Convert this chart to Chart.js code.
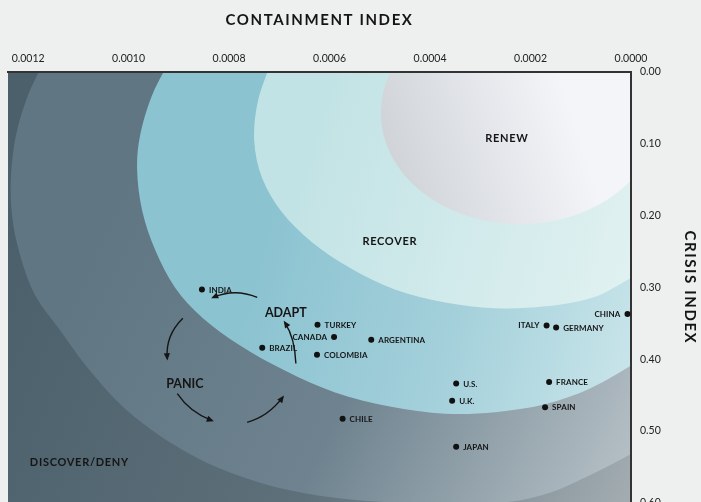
<!DOCTYPE html>
<html>
<head>
<meta charset="utf-8">
<script src="https://cdn.jsdelivr.net/npm/chart.js@4.4.0/dist/chart.umd.min.js"></script>
<style>
  html, body { margin: 0; padding: 0; background: #eef0ef; overflow: hidden; }
  #wrap { width: 701px; height: 518px; }
</style>
</head>
<body>
<div id="wrap"><canvas id="chart" width="701" height="518"></canvas></div>
<script>
// ===== Data =====
const countries   = ["INDIA", "TURKEY", "CANADA", "ARGENTINA", "BRAZIL", "COLOMBIA", "CHILE", "CHINA", "ITALY", "GERMANY", "U.S.", "U.K.", "FRANCE", "SPAIN", "JAPAN"];
const containment = [0.000854, 0.000624, 0.000591, 0.000517, 0.000734, 0.000625, 0.000574, 0.000007, 0.000168, 0.000149, 0.000348, 0.000356, 0.000163, 0.000171, 0.000348];
const crisis      = [0.303, 0.352, 0.369, 0.373, 0.384, 0.394, 0.483, 0.337, 0.353, 0.356, 0.434, 0.458, 0.432, 0.467, 0.522];
const labelLeft   = ["CANADA", "ITALY", "CHINA"];

const xTicks = [0, 0.0002, 0.0004, 0.0006, 0.0008, 0.0010, 0.0012];
const yTicks = [0, 0.1, 0.2, 0.3, 0.4, 0.5, 0.6];

// zone names and where their label sits (containment, crisis)
const zoneNames  = ["DISCOVER/DENY", "PANIC", "ADAPT", "RECOVER", "RENEW"];
const zoneLabelX = [0.001098, 0.000888, 0.000687, 0.000480, 0.000247];
const zoneLabelY = [0.544, 0.434, 0.336, 0.236, 0.092];

// outer edge of each zone, from the top edge round to the right edge (containment, crisis)
const edgePanic = [[0.001166,-0.017],[0.001200,0.032],[0.001224,0.088],[0.001234,0.144],[0.001232,0.1995],[0.001216,0.255],[0.001186,0.311],[0.001136,0.360],[0.001077,0.416],[0.001007,0.469],[0.000917,0.516],[0.000818,0.5525],[0.000708,0.578],[0.000589,0.593],[0.000460,0.600],[0.000340,0.601],[0.000241,0.5986],[0.000161,0.586],[0.0000915,0.565],[0,0.532],[-0.000038,0.515]];
const edgeAdapt = [[0.000917,-0.017],[0.000953,0.032],[0.000977,0.088],[0.000983,0.137],[0.000973,0.193],[0.000947,0.248],[0.000907,0.301],[0.000852,0.343],[0.000778,0.381],[0.000689,0.416],[0.000589,0.4465],[0.000480,0.466],[0.000370,0.476],[0.000271,0.474],[0.000171,0.463],[0.0000816,0.441],[0,0.409],[-0.000038,0.391]];
const edgeRecover = [[0.000714,-0.017],[0.000742,0.039],[0.000750,0.095],[0.000734,0.148],[0.000695,0.195],[0.000635,0.237],[0.000559,0.273],[0.000470,0.303],[0.000370,0.321],[0.000271,0.329],[0.000171,0.3265],[0.0000756,0.314],[0.000008,0.290],[-0.000038,0.273]];
// renew is a plain ellipse: centre and radii (containment, crisis)
const renewCentre = [0.000221, 0.0572];
const renewRadius = [0.000277, 0.155];

// cycle arrows: start, bend, end (containment, crisis)
const arrows = [
  [[0.000744,0.314],[0.000788,0.301],[0.000832,0.314]],
  [[0.000892,0.343],[0.000927,0.367],[0.000923,0.399]],
  [[0.000903,0.448],[0.000878,0.474],[0.000834,0.4856]],
  [[0.000764,0.488],[0.000722,0.480],[0.000693,0.453]],
  [[0.000667,0.406],[0.000669,0.370],[0.000689,0.349]]
];

// ===== Drawing helpers =====
function toPx(chart, p) {
  return [chart.scales.x.getPixelForValue(p[0]), chart.scales.y.getPixelForValue(p[1])];
}

// curva suave que pasa por todos los puntos (catmull-rom)
function traceSmooth(ctx, pts) {
  ctx.moveTo(pts[0][0], pts[0][1]);
  for (let i = 0; i < pts.length - 1; i++) {
    const p0 = pts[Math.max(i - 1, 0)], p1 = pts[i], p2 = pts[i + 1], p3 = pts[Math.min(i + 2, pts.length - 1)];
    ctx.bezierCurveTo(
      p1[0] + (p2[0] - p0[0]) / 6, p1[1] + (p2[1] - p0[1]) / 6,
      p2[0] - (p3[0] - p1[0]) / 6, p2[1] - (p3[1] - p1[1]) / 6,
      p2[0], p2[1]
    );
  }
}

function paint(ctx, g0, g1, stops) {
  const grad = ctx.createLinearGradient(g0[0], g0[1], g1[0], g1[1]);
  stops.forEach(([o, c]) => grad.addColorStop(o, c));
  ctx.fillStyle = grad;
  ctx.fill();
}

function fillZone(ctx, chart, edge, g0, g1, stops) {
  const a = chart.chartArea;
  const pts = edge.map(p => toPx(chart, p));
  const last = pts[pts.length - 1];
  ctx.beginPath();
  traceSmooth(ctx, pts);
  ctx.lineTo(a.right + 40, last[1]);
  ctx.lineTo(a.right + 40, a.top - 40);
  ctx.lineTo(pts[0][0], a.top - 40);
  ctx.closePath();
  paint(ctx, g0, g1, stops);
}

const zonesPlugin = {
  id: "zones",
  beforeDraw(chart) {
    const { ctx, chartArea: a } = chart;
    const w = a.right - a.left, h = a.bottom - a.top;
    ctx.save();
    ctx.beginPath();
    ctx.rect(a.left, a.top, w, h);
    ctx.clip();

    // fondo exterior (discover/deny)
    const g = ctx.createLinearGradient(a.left, a.top + h * 0.4, a.right, a.bottom);
    g.addColorStop(0, "#4b606b");
    g.addColorStop(0.55, "#5e707a");
    g.addColorStop(1, "#a3adb2");
    ctx.fillStyle = g;
    ctx.fillRect(a.left, a.top, w, h);

    fillZone(ctx, chart, edgePanic, [a.left + 100, a.top + 150], [a.right, a.top + 400],
      [[0, "#607683"], [0.5, "#6e838f"], [1, "#b6c0c6"]]);
    fillZone(ctx, chart, edgeAdapt, [a.left + 240, a.top + 220], [a.right, a.top + 320],
      [[0, "#8cc3d1"], [0.5, "#a2cfda"], [1, "#c9e5ea"]]);
    fillZone(ctx, chart, edgeRecover, [a.left + 290, a.top + 120], [a.right, a.top + 220],
      [[0, "#c2e3e5"], [1, "#e1f1f1"]]);

    // renew
    const [cx, cy] = toPx(chart, renewCentre);
    const [ex, ey] = toPx(chart, [renewCentre[0] - renewRadius[0], renewCentre[1] + renewRadius[1]]);
    ctx.beginPath();
    ctx.ellipse(cx, cy, Math.abs(ex - cx), Math.abs(ey - cy), 0, 0, Math.PI * 2);
    paint(ctx, [a.left + 380, a.top + 90], [a.left + 560, a.top + 30], [[0, "#cfd3d8"], [1, "#f4f5f9"]]);
    ctx.restore();
  },
  afterDatasetsDraw(chart) {
    const { ctx, chartArea: a } = chart;
    ctx.save();
    ctx.fillStyle = "#151515";
    ctx.strokeStyle = "#151515";

    // etiquetas de países
    ctx.font = "bold 8px Lato";
    ctx.letterSpacing = "0.1px";
    ctx.textBaseline = "middle";
    chart.getDatasetMeta(0).data.forEach((pt, i) => {
      const left = labelLeft.includes(countries[i]);
      ctx.textAlign = left ? "right" : "left";
      ctx.fillText(countries[i], pt.x + (left ? -7 : 7), pt.y + 0.5);
    });

    // nombres de zonas
    ctx.textAlign = "center";
    zoneNames.forEach((name, i) => {
      const big = name === "ADAPT" || name === "PANIC";
      ctx.font = big ? "bold 12.5px Lato" : "bold 11px Lato";
      ctx.letterSpacing = big ? "0px" : "0.7px";
      const [px, py] = toPx(chart, [zoneLabelX[i], zoneLabelY[i]]);
      ctx.fillText(name, px, py);
    });

    // flechas del ciclo
    ctx.lineWidth = 1.4;
    arrows.forEach(arr => {
      const [s, c, e] = arr.map(p => toPx(chart, p));
      ctx.beginPath();
      ctx.moveTo(s[0], s[1]);
      ctx.quadraticCurveTo(c[0], c[1], e[0], e[1]);
      ctx.stroke();
      const ang = Math.atan2(e[1] - c[1], e[0] - c[0]);
      ctx.beginPath();
      ctx.moveTo(e[0] + Math.cos(ang) * 2, e[1] + Math.sin(ang) * 2);
      ctx.lineTo(e[0] + Math.cos(ang + 2.6) * 6, e[1] + Math.sin(ang + 2.6) * 6);
      ctx.lineTo(e[0] + Math.cos(ang - 2.6) * 6, e[1] + Math.sin(ang - 2.6) * 6);
      ctx.closePath();
      ctx.fill();
    });

    // títulos de ejes
    ctx.font = "bold 15px Lato";
    ctx.letterSpacing = "1.6px";
    ctx.textAlign = "center";
    ctx.fillText("CONTAINMENT INDEX", (a.left + a.right) / 2, 20);
    ctx.translate(690, (a.top + a.bottom) / 2);
    ctx.rotate(Math.PI / 2);
    ctx.fillText("CRISIS INDEX", 0, 0);
    ctx.restore();
  }
};

// ===== Chart =====
const tickFont = { family: "Lato", size: 10.5 };

new Chart(document.getElementById("chart"), {
  type: "scatter",
  data: {
    datasets: [{
      data: countries.map((c, i) => ({ x: containment[i], y: crisis[i] })),
      pointRadius: 3,
      pointHoverRadius: 3,
      pointBackgroundColor: "#111",
      pointBorderWidth: 0,
      clip: false
    }]
  },
  options: {
    responsive: false,
    animation: false,
    layout: { padding: { left: 8, right: 0, top: 0, bottom: 0 } },
    plugins: { legend: { display: false }, tooltip: { enabled: false } },
    scales: {
      x: {
        type: "linear",
        position: "top",
        reverse: true,
        min: 0,
        max: 0.00124,
        afterBuildTicks: s => { s.ticks = xTicks.map(v => ({ value: v })); },
        afterFit: s => { s.height = 72; },
        grid: { display: false, drawTicks: false },
        border: { display: true, color: "#333", width: 2 },
        ticks: { padding: 7, autoSkip: false, maxRotation: 0, color: "#222", font: tickFont, callback: v => v.toFixed(4) }
      },
      y: {
        type: "linear",
        position: "right",
        reverse: true,
        min: 0,
        max: 0.6,
        afterBuildTicks: s => { s.ticks = yTicks.map(v => ({ value: v })); },
        afterFit: s => { s.width = 70; },
        grid: { display: false, drawTicks: false },
        border: { display: true, color: "#333", width: 2 },
        ticks: { padding: 9, color: "#222", font: tickFont, callback: v => v.toFixed(2) }
      }
    }
  },
  plugins: [zonesPlugin]
});
</script>
</body>
</html>
